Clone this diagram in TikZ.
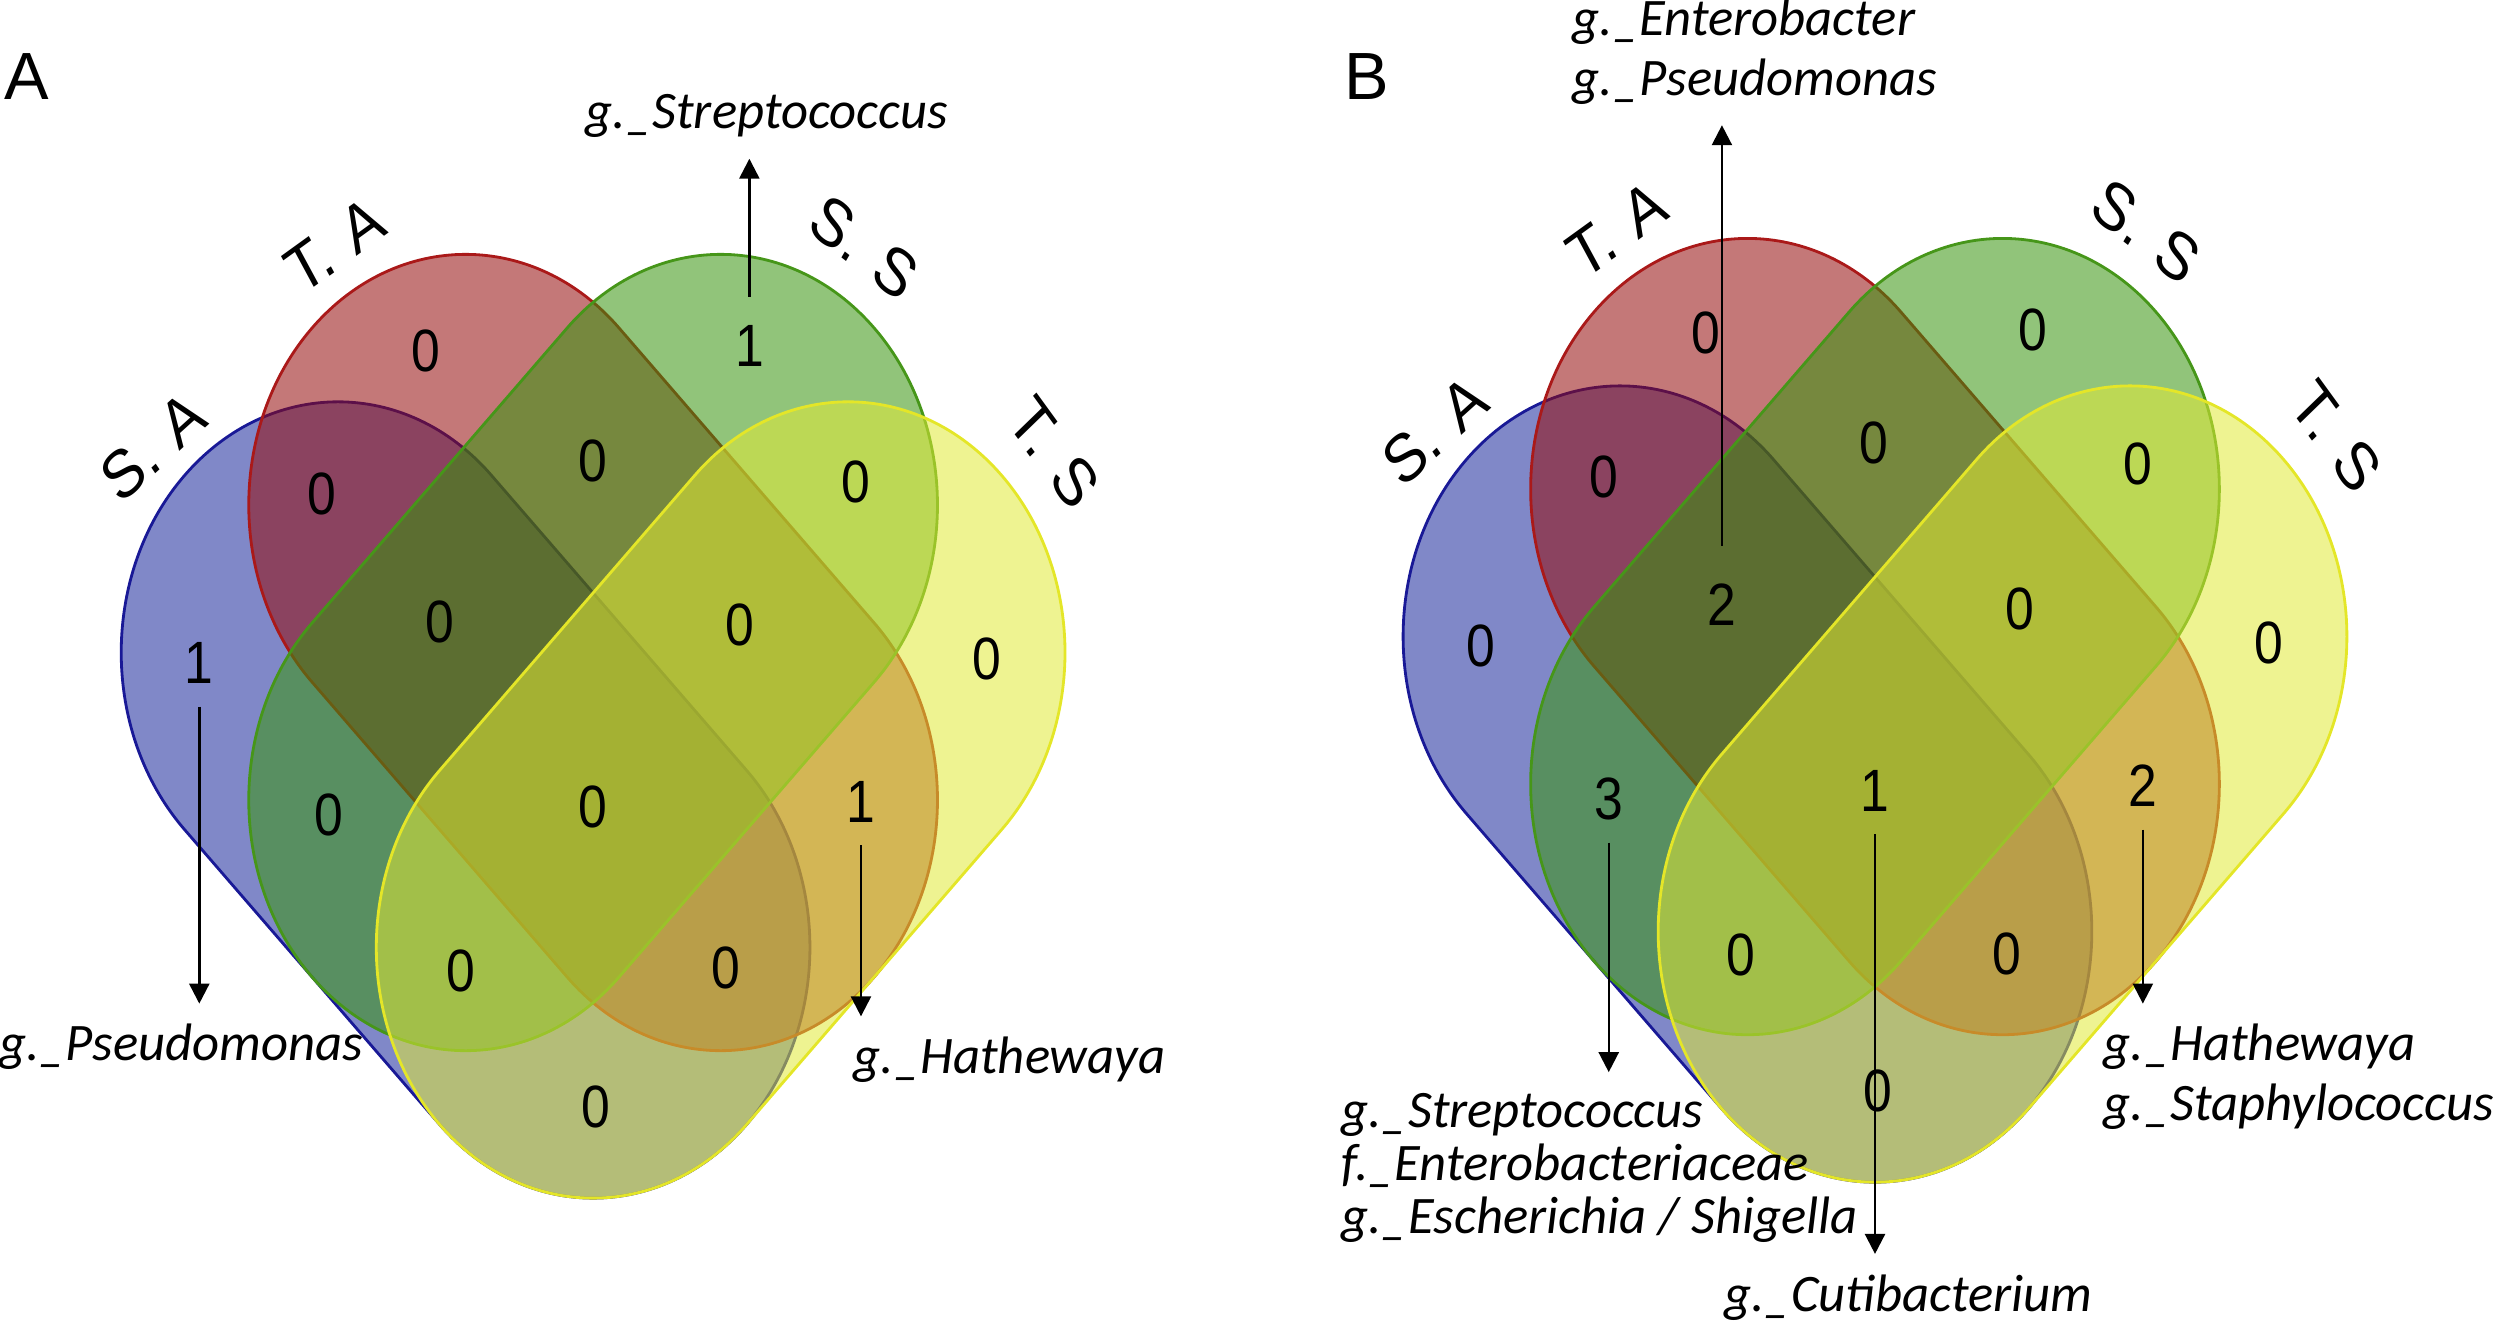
\documentclass[tikz,border=0pt]{standalone}
\usepackage{fontspec}
\setmainfont{Liberation Sans}
\newfontfamily\taxonfont{Carlito}
\usetikzlibrary{arrows.meta}

\definecolor{saFill}{RGB}{24,39,155}
\definecolor{taFill}{RGB}{148,10,10}
\definecolor{ssFill}{RGB}{55,148,13}
\definecolor{tsFill}{RGB}{224,233,55}
\definecolor{saEdge}{RGB}{25,25,150}
\definecolor{taEdge}{RGB}{170,25,25}
\definecolor{ssEdge}{RGB}{70,150,25}
\definecolor{tsEdge}{RGB}{228,230,40}

% one set of the diagram: start centre, vector to end centre, axis angle
\newcommand{\vennset}[4]{%
  \draw[#1] ([shift={(#4+90:1.7)}]#2) arc[start angle=#4+90,end angle=#4+270,radius=1.7]
    -- ++(#3) arc[start angle=#4+270,end angle=#4+450,radius=1.7] -- cycle;}
% set name with the wide gap after the dot
\newcommand{\setlabel}[2]{#1.\hspace{0.35em}#2}

\begin{document}
\begin{tikzpicture}[x=0.015944cm,y=-0.015944cm,>={Triangle[length=2mm,width=2mm]}]
  \tikzstyle{set} = [fill opacity=0.55,line width=0.8pt]
  \tikzstyle{sa} = [set,fill=saFill,draw=saEdge]
  \tikzstyle{ta} = [set,fill=taFill,draw=taEdge]
  \tikzstyle{ss} = [set,fill=ssFill,draw=ssEdge]
  \tikzstyle{ts} = [set,fill=tsFill,draw=tsEdge]
  \tikzstyle{num} = [font=\fontsize{14.7}{16}\selectfont,inner sep=0pt,yscale=1.156]
  \tikzstyle{setname} = [font=\fontsize{16.5}{18}\selectfont,inner sep=0pt,yscale=1.156]
  \tikzstyle{taxon} = [font=\taxonfont\itshape\fontsize{15}{15.1}\selectfont,inner sep=0pt,align=left]
  \tikzstyle{panel} = [font=\fontsize{19}{21}\selectfont,inner sep=0pt]
  \tikzstyle{arr} = [->,line width=0.7pt,shorten >=0.2cm,shorten <=0.22cm]
  \useasboundingbox (0,0) rectangle (1568,832);

  % panel A
  \begin{scope}[shift={(372,455.5)},x=1.2755cm,y=1.4748cm]
    \vennset{sa}{-2,0.5}{2,-2}{-45}
    \vennset{ta}{-1,1.5}{2,-2}{-45}
    \vennset{ss}{1,1.5}{-2,-2}{225}
    \vennset{ts}{2,0.5}{-2,-2}{225}
  \end{scope}
  \node[panel] (pA) at (17,48) {A};
  \node[setname,rotate=38] (saA) at (96,280) {\setlabel{S}{A}};
  \node[setname,rotate=32] (taA) at (210,154) {\setlabel{T}{A}};
  \node[setname,rotate=-34] (ssA) at (542,155) {\setlabel{S}{S}};
  \node[setname,rotate=-50] (tsA) at (661,284) {\setlabel{T}{S}};
  \node[num] (a1) at (267,220) {0};
  \node[num] (a2) at (470,217) {1};
  \node[num] (a3) at (202,310) {0};
  \node[num] (a4) at (372,289) {0};
  \node[num] (a5) at (537,302) {0};
  \node[num] (a6) at (125,416) {1};
  \node[num] (a7) at (276,390) {0};
  \node[num] (a8) at (464,392) {0};
  \node[num] (a9) at (619,413) {0};
  \node[num] (a10) at (206,511) {0};
  \node[num] (a11) at (372,506) {0};
  \node[num] (a12) at (540,503) {1};
  \node[num] (a13) at (289,609) {0};
  \node[num] (a14) at (455,607) {0};
  \node[num] (a15) at (374,694) {0};
  \node[taxon,anchor=south west] (labA1) at (367,87) {g.\_Streptococcus};
  \node[taxon,anchor=north west] (labA2) at (-1,642) {g.\_Pseudomonas};
  \node[taxon,anchor=north west] (labA3) at (535,650) {g.\_Hathewaya};
  \draw[arr,shorten <=0.28cm] (a2.north) -- (a2.north |- labA1.south);
  \draw[arr] (a6.south) -- (a6.south |- labA2.north);
  \draw[arr] (a12.south) -- (a12.south |- labA3.north);

  % panel B
  \begin{scope}[shift={(1176,445.5)},x=1.2755cm,y=1.4748cm]
    \vennset{sa}{-2,0.5}{2,-2}{-45}
    \vennset{ta}{-1,1.5}{2,-2}{-45}
    \vennset{ss}{1,1.5}{-2,-2}{225}
    \vennset{ts}{2,0.5}{-2,-2}{225}
  \end{scope}
  \node[panel] (pB) at (857,48) {B};
  \node[setname,rotate=38] (saB) at (900,270) {\setlabel{S}{A}};
  \node[setname,rotate=32] (taB) at (1014,144) {\setlabel{T}{A}};
  \node[setname,rotate=-34] (ssB) at (1346,145) {\setlabel{S}{S}};
  \node[setname,rotate=-50] (tsB) at (1465,274) {\setlabel{T}{S}};
  \node[num] (b1) at (1070,209) {0};
  \node[num] (b2) at (1275,207) {0};
  \node[num] (b3) at (1006,299) {0};
  \node[num] (b4) at (1175,278) {0};
  \node[num] (b5) at (1341,291) {0};
  \node[num] (b6) at (929,405) {0};
  \node[num] (b7) at (1080,379) {2};
  \node[num] (b8) at (1267,382) {0};
  \node[num] (b9) at (1423,403) {0};
  \node[num] (b10) at (1009,501) {3};
  \node[num] (b11) at (1176,496) {1};
  \node[num] (b12) at (1344,493) {2};
  \node[num] (b13) at (1092,599) {0};
  \node[num] (b14) at (1259,598) {0};
  \node[num] (b15) at (1178,684) {0};
  \node[taxon,anchor=south west,font=\taxonfont\itshape\fontsize{15}{17}\selectfont] (labB1) at (986,66) {g.\_Enterobacter\\g.\_Pseudomonas};
  \node[taxon,anchor=north west] (labB2) at (841,685) {g.\_Streptococcus\\f.\_Enterobacteriaceae\\g.\_Escherichia / Shigella};
  \node[taxon,anchor=north] (labB3) at (1197,799) {g.\_Cutibacterium};
  \node[taxon,anchor=north west,font=\taxonfont\itshape\fontsize{15}{17}\selectfont] (labB4) at (1319,642) {g.\_Hathewaya\\g.\_Staphylococcus};
  \draw[arr,shorten <=0.37cm] (b7.north) -- (b7.north |- labB1.south);
  \draw[arr] (b10.south) -- (b10.south |- labB2.north);
  \draw[arr] (b11.south) -- (b11.south |- labB3.north);
  \draw[arr] (b12.south) -- (b12.south |- labB4.north);
\end{tikzpicture}
\end{document}
